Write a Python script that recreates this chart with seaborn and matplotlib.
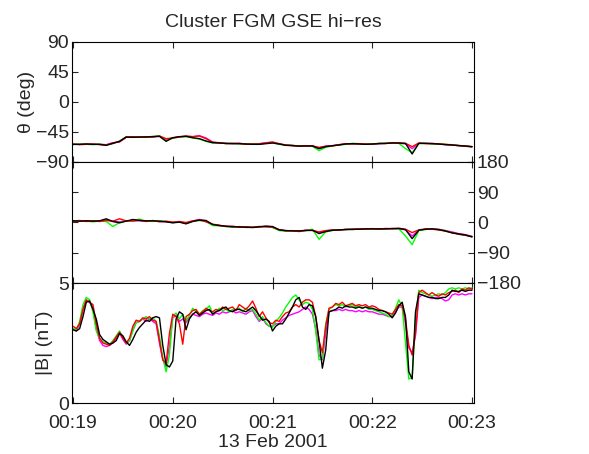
import numpy as np
import pandas as pd
import seaborn as sns
import matplotlib.pyplot as plt
import matplotlib.dates as mdates

# time axis: seconds after 00:19:00 on 13 Feb 2001
start = pd.Timestamp("2001-02-13 00:19:00")
t_b = np.arange(0, 241, 2)     # |B| samples
t_ang = np.arange(0, 241, 4)   # angle samples

# |B| (nT), one list per spacecraft
b_c1 = [3.05, 3.0, 3.1, 3.6, 4.2, 4.25, 3.9, 3.5, 2.85, 2.65,
        2.55, 2.45, 2.5, 2.6, 2.9, 2.8, 2.55, 2.4, 2.65, 2.95,
        3.15, 3.3, 3.45, 3.4, 3.55, 3.6, 3.55, 2.4, 1.6, 1.5,
        1.75, 3.5, 3.8, 3.7, 3.05, 3.5, 3.7, 3.8, 3.65, 3.75,
        3.85, 3.9, 3.7, 3.8, 3.85, 3.95, 4.0, 3.85, 3.8, 3.9,
        3.9, 3.85, 3.8, 3.9, 4.0, 3.85, 3.65, 3.45, 3.5, 3.4,
        3.0, 3.2, 3.3, 3.3, 3.5, 3.75, 4.0, 4.3, 4.4, 4.0,
        3.9, 4.1, 4.05, 3.6, 2.6, 1.45, 2.2, 3.8, 3.85, 3.9,
        4.0, 3.95, 4.05, 4.0, 4.0, 3.95, 4.0, 3.95, 4.0, 3.95,
        3.95, 3.9, 3.85, 3.85, 3.8, 3.7, 3.55, 3.75, 4.05, 4.2,
        3.6, 1.3, 1.0, 3.8, 4.55, 4.5, 4.45, 4.4, 4.4, 4.35,
        4.35, 4.4, 4.4, 4.5, 4.7, 4.65, 4.65, 4.7, 4.65, 4.7,
        4.7]
b_c2 = [3.2, 3.1, 3.3, 3.9, 4.3, 4.2, 4.1, 3.3, 2.7, 2.5,
        2.45, 2.4, 2.55, 2.75, 2.95, 2.7, 2.5, 2.7, 3.2, 3.45,
        3.4, 3.55, 3.5, 3.6, 3.45, 3.4, 2.6, 1.8, 1.65, 2.9,
        3.7, 3.6, 3.3, 2.45, 3.6, 3.7, 3.85, 3.9, 3.7, 3.8,
        3.95, 3.85, 3.8, 3.9, 3.85, 4.0, 3.9, 3.95, 4.0, 3.85,
        4.1, 4.0, 3.9, 4.05, 4.25, 3.95, 3.6, 3.8, 3.55, 3.35,
        3.3, 3.45, 3.4, 3.6, 3.75, 3.8, 4.0, 4.1, 4.0, 4.2,
        4.3, 4.3, 4.2, 3.6, 2.6, 2.1, 3.2, 3.95, 4.0, 4.15,
        4.1, 4.2, 4.05, 4.1, 4.15, 4.05, 4.1, 4.05, 4.1, 4.0,
        4.05, 4.0, 3.9, 3.85, 3.8, 3.75, 3.7, 3.9, 4.1, 4.05,
        3.5, 2.4, 2.0, 2.9, 4.6, 4.7, 4.6, 4.5, 4.6, 4.5,
        4.45, 4.55, 4.5, 4.6, 4.65, 4.7, 4.6, 4.75, 4.7, 4.8,
        4.75]
b_c3 = [3.1, 3.05, 3.4, 4.1, 4.4, 4.3, 3.8, 3.0, 2.7, 2.55,
        2.5, 2.45, 2.6, 2.8, 3.0, 2.75, 2.5, 2.6, 3.0, 3.35,
        3.4, 3.5, 3.6, 3.5, 3.55, 3.4, 2.8, 1.9, 1.3, 2.0,
        3.6, 3.75, 3.5, 3.7, 3.4, 3.65, 3.95, 3.8, 3.7, 3.85,
        3.9, 4.05, 3.75, 3.8, 3.95, 3.85, 3.9, 3.8, 3.9, 3.85,
        3.95, 3.8, 3.95, 3.85, 3.9, 3.7, 3.45, 3.6, 3.35, 3.2,
        3.15, 3.4, 3.55, 3.75, 4.0, 4.2, 4.4, 4.5, 4.3, 4.1,
        4.2, 4.15, 3.9, 3.0, 1.8, 1.85, 3.3, 3.9, 4.0, 4.1,
        4.05, 4.1, 4.0, 4.05, 4.1, 4.0, 4.05, 3.95, 4.0, 3.9,
        3.9, 3.85, 3.8, 3.75, 3.7, 3.6, 3.65, 3.95, 4.3, 4.0,
        2.5, 1.0, 1.05, 3.5, 4.7, 4.6, 4.55, 4.5, 4.45, 4.5,
        4.55, 4.5, 4.6, 4.75, 4.8, 4.75, 4.8, 4.75, 4.8, 4.75,
        4.8]
b_c4 = [3.1, 3.0, 3.3, 3.9, 4.25, 4.2, 3.95, 3.1, 2.6, 2.4,
        2.35, 2.4, 2.5, 2.7, 2.9, 2.65, 2.45, 2.6, 3.05, 3.35,
        3.4, 3.5, 3.4, 3.5, 3.4, 3.3, 2.5, 1.8, 1.5, 2.4,
        3.55, 3.65, 3.4, 3.5, 3.35, 3.55, 3.7, 3.65, 3.6, 3.7,
        3.75, 3.7, 3.65, 3.75, 3.7, 3.8, 3.75, 3.8, 3.85, 3.75,
        3.8, 3.75, 3.7, 3.8, 3.85, 3.6, 3.4, 3.55, 3.3, 3.2,
        3.2, 3.3, 3.3, 3.45, 3.55, 3.65, 3.7, 3.75, 3.8, 3.9,
        4.0, 3.9, 3.7, 3.1, 2.0, 1.8, 2.9, 3.8, 3.85, 3.85,
        3.9, 3.85, 3.9, 3.85, 3.85, 3.8, 3.85, 3.8, 3.85, 3.8,
        3.8, 3.75, 3.7, 3.7, 3.65, 3.6, 3.6, 3.8, 4.0, 4.0,
        3.3, 2.3, 2.1, 2.8, 4.4, 4.5, 4.45, 4.4, 4.35, 4.4,
        4.4, 4.35, 4.25, 4.3, 4.5, 4.55, 4.5, 4.55, 4.5, 4.55,
        4.55]

# theta (deg)
th_c1 = [-63.5, -63.5, -63, -63.5, -63.5, -65, -62, -59, -52.5, -53,
         -52.5, -52.5, -52, -51.5, -59, -53.5, -52, -51.5, -53.5, -55,
         -58.5, -61, -61.5, -62, -62.5, -62.5, -63, -63.5, -63.5, -62.5,
         -61.5, -63, -65, -65.5, -66, -66, -66, -70, -67, -65.5,
         -64.5, -63, -62.5, -63, -63.5, -63, -62.5, -62, -61.5, -61.5,
         -62, -78, -62, -62, -62.5, -63, -64, -64.5, -65.5, -66,
         -67]
th_c2 = [-63, -64, -63.5, -63, -64, -64.5, -61.5, -59.5, -53, -52,
         -53, -52, -52.5, -51, -55, -54, -52.5, -51, -52, -51,
         -55, -60.5, -61, -62.5, -62, -62, -63.5, -63, -63, -61.5,
         -60, -62.5, -64.5, -65, -66.5, -65.5, -66, -68, -66.5, -66,
         -64, -62.5, -63, -62.5, -63, -63.5, -62, -62.5, -61, -62,
         -62, -67, -61.5, -62.5, -62, -63, -63.5, -64.5, -65, -66.5,
         -67]
th_c3 = [-64, -63, -63.5, -64, -63, -64.5, -62.5, -58.5, -52, -52.5,
         -52, -52.5, -51.5, -50.5, -58, -54.5, -52.5, -52, -54, -55.5,
         -59, -61.5, -61, -62.5, -62, -63, -62.5, -63, -63, -62,
         -61, -63.5, -64.5, -65, -66, -65.5, -66.5, -73, -68, -66,
         -64.5, -63.5, -62, -62.5, -63, -63, -62, -62, -61.5, -62,
         -70, -76, -62.5, -62, -63, -63, -63.5, -64, -65.5, -66,
         -67.5]
th_c4 = [-63.5, -63.5, -63, -63.5, -63.5, -64, -61, -60, -53, -52.5,
         -52.5, -53, -52, -51.5, -56, -54, -52, -51.5, -52, -50.5,
         -54, -60, -61.5, -62, -62.5, -62, -63, -63, -62.5, -61,
         -60.5, -63, -64.5, -65.5, -66, -66, -65.5, -69, -66, -65.5,
         -64, -63, -62.5, -62.5, -63, -63, -62.5, -62, -61.5, -61.5,
         -63, -70, -62, -62, -62.5, -63, -64, -64.5, -65.5, -66,
         -67]

# phi (deg)
ph_c1 = [5, 4, 5, 4, 5, 11, 3, -1, 4, 9,
         6, 5, 5, 4, 2, -1, 1, -4, 3, 7,
         6, -6, -9, -11, -13, -13, -14, -15, -13, -11,
         -12, -22, -24, -25, -25, -24, -23, -33, -27, -23,
         -22, -21, -20, -20, -19, -19, -19, -19, -18, -18,
         -21, -48, -23, -20, -19, -21, -25, -31, -34, -37,
         -43]
ph_c2 = [4, 6, 3, 5, 3, 6, 4, 11, 5, 4,
         7, 3, 6, 2, 4, 1, 3, 0, 5, 8,
         2, -5, -8, -12, -11, -14, -13, -14, -12, -13,
         -14, -21, -25, -24, -27, -23, -24, -28, -24, -22,
         -23, -20, -21, -19, -20, -18, -20, -18, -19, -17,
         -20, -30, -22, -19, -20, -22, -26, -30, -35, -38,
         -42]
ph_c3 = [3, 5, 4, 2, 4, 3, -12, 0, 5, 6,
         10, 4, 3, 5, 3, 0, 2, -2, 4, 6,
         3, -9, -10, -12, -14, -12, -15, -14, -12, -12,
         -15, -24, -26, -25, -26, -24, -20, -50, -28, -24,
         -22, -21, -21, -20, -19, -20, -19, -19, -18, -19,
         -40, -66, -24, -21, -19, -22, -24, -30, -35, -38,
         -42]
ph_c4 = [5, 4, 5, 4, 4, 8, 3, 2, 5, 6,
         5, 4, 5, 3, 2, 0, 2, -2, 4, 9,
         5, -6, -9, -11, -12, -13, -14, -14, -13, -11,
         -13, -22, -24, -25, -25, -23, -22, -30, -25, -23,
         -22, -21, -20, -20, -19, -19, -19, -18, -18, -18,
         -22, -40, -23, -20, -19, -20, -24, -28, -33, -36,
         -41]

probes = ["C4", "C3", "C2", "C1"]   # drawing order, C1 on top
colors = {"C1": "#000000", "C2": "#ff0000", "C3": "#00ff00", "C4": "#ff00ff"}
x_ticks = ["00:19", "00:20", "00:21", "00:22", "00:23"]


def long_frame(t, series):
    parts = []
    for name, vals in series.items():
        parts.append(pd.DataFrame({"time": start + pd.to_timedelta(t, unit="s"),
                                   "value": vals, "probe": name}))
    return pd.concat(parts, ignore_index=True)


df_th = long_frame(t_ang, {"C1": th_c1, "C2": th_c2, "C3": th_c3, "C4": th_c4})
df_ph = long_frame(t_ang, {"C1": ph_c1, "C2": ph_c2, "C3": ph_c3, "C4": ph_c4})
df_b = long_frame(t_b, {"C1": b_c1, "C2": b_c2, "C3": b_c3, "C4": b_c4})

sns.set_style("ticks")
plt.rcParams["font.family"] = ["Liberation Sans", "DejaVu Sans"]
fs = 14

fig = plt.figure(figsize=(5.89, 4.54), dpi=100)
left, width = 72 / 589, 402 / 589
ax_th = fig.add_axes([left, 1 - 162 / 454, width, 120 / 454])
ax_ph = fig.add_axes([left, 1 - 283 / 454, width, 121 / 454])
ax_b = fig.add_axes([left, 1 - 403 / 454, width, 120 / 454])

xlim = [start - pd.Timedelta(seconds=0.6), start + pd.Timedelta(seconds=241.2)]
tick_pos = [start + pd.Timedelta(minutes=i) for i in range(len(x_ticks))]

for ax, df in [(ax_th, df_th), (ax_ph, df_ph), (ax_b, df_b)]:
    sns.lineplot(data=df, x="time", y="value", hue="probe", hue_order=probes,
                 palette=colors, ax=ax, linewidth=1.0, legend=False,
                 estimator=None, sort=False)
    ax.set_xlim(xlim)
    ax.set_xticks(tick_pos)
    ax.xaxis.set_major_formatter(mdates.DateFormatter("%H:%M"))
    ax.tick_params(direction="in", length=4, width=0.8, top=True, right=True,
                   labelsize=fs, pad=2)
    ax.tick_params(axis="x", pad=9)
    for s in ax.spines.values():
        s.set_linewidth(0.8)
        s.set_color("black")
    ax.set_xlabel("")
    ax.set_ylabel("")

ax_th.set_ylim(-90, 90)
ax_th.set_yticks([-90, -45, 0, 45, 90])
ax_th.tick_params(labelbottom=False)
ax_th.set_ylabel("θ (deg)", fontsize=fs, labelpad=1)
ax_th.set_title("Cluster FGM GSE hi\u2212res", fontsize=fs, pad=11)

ax_ph.set_ylim(-180, 180)
ax_ph.set_yticks([-180, -90, 0, 90, 180])
ax_ph.tick_params(labelbottom=False, labelleft=False, labelright=True)

ax_b.set_ylim(0, 5)
ax_b.set_yticks([0, 5])
ax_b.set_ylabel("|B| (nT)", fontsize=fs, labelpad=4)
ax_b.set_xticklabels(x_ticks)
ax_b.set_xlabel("13 Feb 2001", fontsize=fs, labelpad=1)

fig.savefig("out.png", dpi=100)
